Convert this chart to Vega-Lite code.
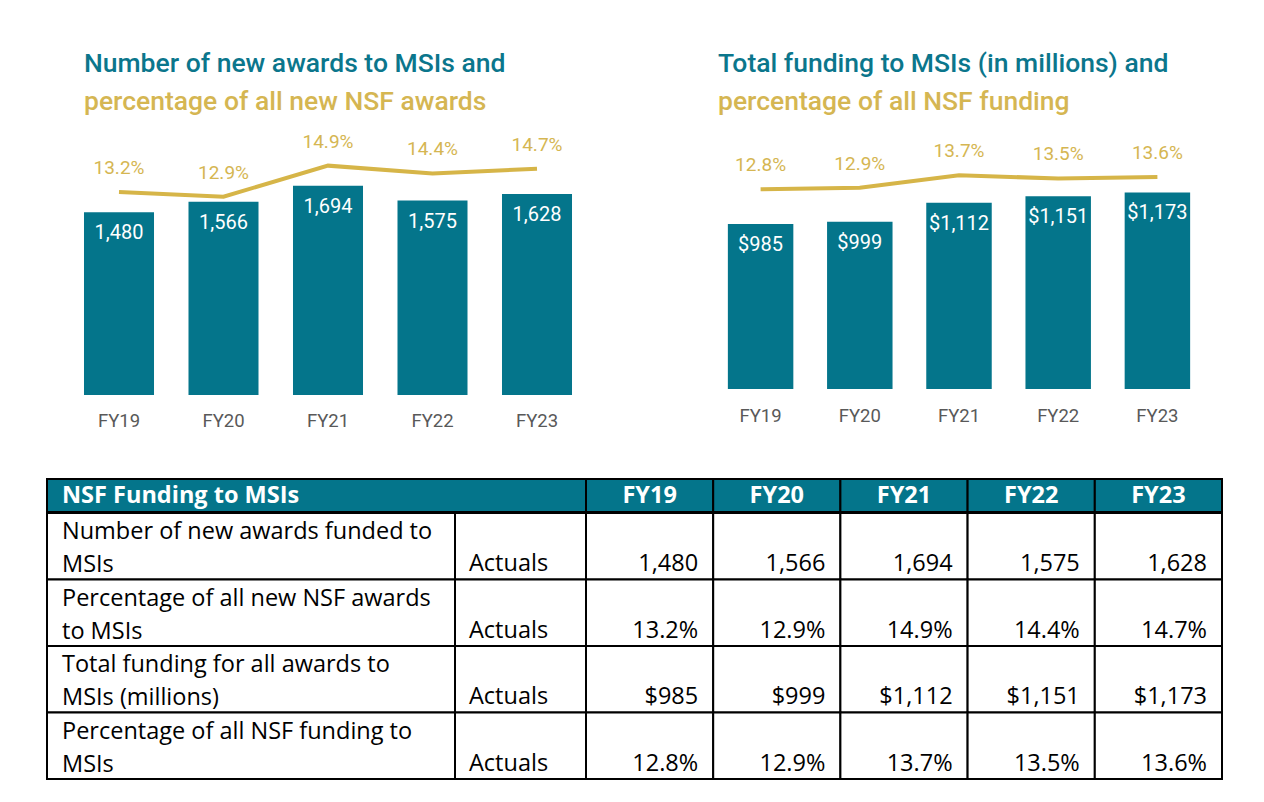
{
  "$schema": "https://vega.github.io/schema/vega-lite/v6.json",
  "background": "white",
  "padding": {"left": 46, "top": 51, "right": 0, "bottom": 0},
  "autosize": {"type": "pad"},
  "config": {"view": {"stroke": null}},
  "datasets": {
    "awards": [
      {"fy": "FY19", "awards": 1480, "pct": 0.132},
      {"fy": "FY20", "awards": 1566, "pct": 0.129},
      {"fy": "FY21", "awards": 1694, "pct": 0.149},
      {"fy": "FY22", "awards": 1575, "pct": 0.144},
      {"fy": "FY23", "awards": 1628, "pct": 0.147}
    ],
    "funding": [
      {"fy": "FY19", "funding": 985, "pct": 0.128},
      {"fy": "FY20", "funding": 999, "pct": 0.129},
      {"fy": "FY21", "funding": 1112, "pct": 0.137},
      {"fy": "FY22", "funding": 1151, "pct": 0.135},
      {"fy": "FY23", "funding": 1173, "pct": 0.136}
    ],
    "tabletitle": [{"title": "NSF Funding to MSIs"}],
    "years": [{"fy": "FY19"}, {"fy": "FY20"}, {"fy": "FY21"}, {"fy": "FY22"}, {"fy": "FY23"}],
    "rows": [
      {"row": 1, "label": "Number of new awards funded to\nMSIs", "kind": "Actuals"},
      {"row": 2, "label": "Percentage of all new NSF awards\nto MSIs", "kind": "Actuals"},
      {"row": 3, "label": "Total funding for all awards to\nMSIs (millions)", "kind": "Actuals"},
      {"row": 4, "label": "Percentage of all NSF funding to\nMSIs", "kind": "Actuals"}
    ],
    "cells": [
      {"row": 1, "fy": "FY19", "value": "1,480"},
      {"row": 1, "fy": "FY20", "value": "1,566"},
      {"row": 1, "fy": "FY21", "value": "1,694"},
      {"row": 1, "fy": "FY22", "value": "1,575"},
      {"row": 1, "fy": "FY23", "value": "1,628"},
      {"row": 2, "fy": "FY19", "value": "13.2%"},
      {"row": 2, "fy": "FY20", "value": "12.9%"},
      {"row": 2, "fy": "FY21", "value": "14.9%"},
      {"row": 2, "fy": "FY22", "value": "14.4%"},
      {"row": 2, "fy": "FY23", "value": "14.7%"},
      {"row": 3, "fy": "FY19", "value": "$985"},
      {"row": 3, "fy": "FY20", "value": "$999"},
      {"row": 3, "fy": "FY21", "value": "$1,112"},
      {"row": 3, "fy": "FY22", "value": "$1,151"},
      {"row": 3, "fy": "FY23", "value": "$1,173"},
      {"row": 4, "fy": "FY19", "value": "12.8%"},
      {"row": 4, "fy": "FY20", "value": "12.9%"},
      {"row": 4, "fy": "FY21", "value": "13.7%"},
      {"row": 4, "fy": "FY22", "value": "13.5%"},
      {"row": 4, "fy": "FY23", "value": "13.6%"}
    ]
  },
  "spacing": 48,
  "vconcat": [
    {
      "hconcat": [
        {
          "width": 562,
          "height": 264,
          "title": {
            "text": "Number of new awards to MSIs and",
            "subtitle": "percentage of all new NSF awards",
            "anchor": "start", "dx": 37, "offset": 16,
            "font": "Roboto", "fontSize": 26.5, "fontWeight": 500, "color": "#0B768C",
            "subtitleFont": "Roboto", "subtitleFontSize": 26.5, "subtitleFontWeight": 500,
            "subtitleColor": "#D5B652", "subtitlePadding": 11
          },
          "data": {"name": "awards"},
          "encoding": {
            "x": {
              "field": "fy", "type": "nominal",
              "scale": {"paddingInner": 0.33, "paddingOuter": 0.354},
              "axis": {"title": null, "domain": false, "ticks": false, "labelAngle": 0,
                       "labelFont": "Roboto", "labelFontSize": 18.5, "labelColor": "#595959", "labelPadding": 16}
            }
          },
          "layer": [
            {
              "mark": {"type": "bar", "color": "#04758B"},
              "encoding": {"y": {"field": "awards", "type": "quantitative", "scale": {"domain": [0, 2138]}, "axis": null}}
            },
            {
              "mark": {"type": "text", "color": "white", "font": "Roboto", "fontSize": 20, "baseline": "middle", "dy": 21},
              "encoding": {
                "y": {"field": "awards", "type": "quantitative", "scale": {"domain": [0, 2138]}, "axis": null},
                "text": {"field": "awards", "type": "quantitative", "format": ","}
              }
            },
            {
              "mark": {"type": "line", "color": "#D6B548", "strokeWidth": 4},
              "encoding": {"y": {"field": "pct", "type": "quantitative", "scale": {"domain": [0.00103, 0.17135]}, "axis": null}}
            },
            {
              "mark": {"type": "text", "color": "#D5B652", "font": "Roboto", "fontSize": 19, "baseline": "middle", "dy": -24},
              "encoding": {
                "y": {"field": "pct", "type": "quantitative", "scale": {"domain": [0.00103, 0.17135]}, "axis": null},
                "text": {"field": "pct", "type": "quantitative", "format": ".1%"}
              }
            }
          ],
          "resolve": {"scale": {"y": "independent"}}
        },
        {
          "width": 496,
          "height": 258,
          "title": {
            "text": "Total funding to MSIs (in millions) and",
            "subtitle": "percentage of all NSF funding",
            "anchor": "start", "dx": 7, "offset": 16,
            "font": "Roboto", "fontSize": 26.5, "fontWeight": 500, "color": "#0B768C",
            "subtitleFont": "Roboto", "subtitleFontSize": 26.5, "subtitleFontWeight": 500,
            "subtitleColor": "#D5B652", "subtitlePadding": 11
          },
          "data": {"name": "funding"},
          "encoding": {
            "x": {
              "field": "fy", "type": "nominal",
              "scale": {"paddingInner": 0.34, "paddingOuter": 0.17},
              "axis": {"title": null, "domain": false, "ticks": false, "labelAngle": 0,
                       "labelFont": "Roboto", "labelFontSize": 18.5, "labelColor": "#595959", "labelPadding": 17}
            }
          },
          "layer": [
            {
              "mark": {"type": "bar", "color": "#04758B"},
              "encoding": {"y": {"field": "funding", "type": "quantitative", "scale": {"domain": [0, 1540]}, "axis": null}}
            },
            {
              "mark": {"type": "text", "color": "white", "font": "Roboto", "fontSize": 20, "baseline": "middle", "dy": 21},
              "encoding": {
                "y": {"field": "funding", "type": "quantitative", "scale": {"domain": [0, 1540]}, "axis": null},
                "text": {"field": "funding", "type": "quantitative", "format": "$,.0f"}
              }
            },
            {
              "mark": {"type": "line", "color": "#D6B548", "strokeWidth": 4},
              "encoding": {"y": {"field": "pct", "type": "quantitative", "scale": {"domain": [-0.0008, 0.1656]}, "axis": null}}
            },
            {
              "mark": {"type": "text", "color": "#D5B652", "font": "Roboto", "fontSize": 19, "baseline": "middle", "dy": -24},
              "encoding": {
                "y": {"field": "pct", "type": "quantitative", "scale": {"domain": [-0.0008, 0.1656]}, "axis": null},
                "text": {"field": "pct", "type": "quantitative", "format": ".1%"}
              }
            }
          ],
          "resolve": {"scale": {"y": "independent"}}
        }
      ],
      "spacing": 102,
      "bounds": "flush"
    },
    {
      "spacing": -2,
      "vconcat": [
        {
          "hconcat": [
            {
              "width": 539, "height": 33,
              "data": {"name": "tabletitle"},
              "layer": [
                {
                  "mark": {"type": "rect", "fill": "#04758B", "stroke": "black", "strokeWidth": 2},
                  "encoding": {"x": {"datum": "title", "type": "nominal", "scale": {"paddingInner": 0, "paddingOuter": 0}, "axis": null}}
                },
                {
                  "mark": {"type": "text", "align": "left", "baseline": "middle", "dx": 15, "font": "Open Sans", "fontSize": 23.5, "fontWeight": "bold", "color": "white"},
                  "encoding": {
                    "x": {"datum": "title", "type": "nominal", "bandPosition": 0, "scale": {"paddingInner": 0, "paddingOuter": 0}, "axis": null},
                    "text": {"field": "title"}
                  }
                }
              ]
            },
            {
              "width": 636, "height": 33,
              "data": {"name": "years"},
              "encoding": {"x": {"field": "fy", "type": "nominal", "scale": {"type": "band", "paddingInner": 0, "paddingOuter": 0}, "axis": null}},
              "layer": [
                {"mark": {"type": "rect", "fill": "#04758B", "stroke": "black", "strokeWidth": 2}},
                {
                  "mark": {"type": "text", "baseline": "middle", "font": "Open Sans", "fontSize": 23.5, "fontWeight": "bold", "color": "white"},
                  "encoding": {"text": {"field": "fy"}}
                }
              ]
            }
          ],
          "spacing": 0,
          "bounds": "flush"
        },
        {
          "hconcat": [
            {
              "width": 408, "height": 266,
              "data": {"name": "rows"},
              "encoding": {
                "x": {"datum": "label", "type": "nominal", "scale": {"type": "band", "paddingInner": 0, "paddingOuter": 0}, "axis": null},
                "y": {"field": "row", "type": "ordinal", "scale": {"type": "band", "paddingInner": 0, "paddingOuter": 0}, "axis": null}
              },
              "layer": [
                {"mark": {"type": "rect", "fill": "white", "stroke": "black", "strokeWidth": 2}},
                {
                  "mark": {"type": "text", "align": "left", "baseline": "middle", "dx": 15, "lineBreak": "\n", "lineHeight": 33, "font": "Open Sans", "fontSize": 23.5, "color": "black"},
                  "encoding": {
                    "x": {"datum": "label", "type": "nominal", "bandPosition": 0},
                    "y": {"field": "row", "type": "ordinal", "bandPosition": 0.29},
                    "text": {"field": "label"}
                  }
                }
              ]
            },
            {
              "width": 131, "height": 266,
              "data": {"name": "rows"},
              "encoding": {
                "x": {"datum": "kind", "type": "nominal", "scale": {"type": "band", "paddingInner": 0, "paddingOuter": 0}, "axis": null},
                "y": {"field": "row", "type": "ordinal", "scale": {"type": "band", "paddingInner": 0, "paddingOuter": 0}, "axis": null}
              },
              "layer": [
                {"mark": {"type": "rect", "fill": "white", "stroke": "black", "strokeWidth": 2}},
                {
                  "mark": {"type": "text", "align": "left", "baseline": "middle", "dx": 14, "font": "Open Sans", "fontSize": 23.5, "color": "black"},
                  "encoding": {
                    "x": {"datum": "kind", "type": "nominal", "bandPosition": 0},
                    "y": {"field": "row", "type": "ordinal", "bandPosition": 0.77},
                    "text": {"field": "kind"}
                  }
                }
              ]
            },
            {
              "width": 636, "height": 266,
              "data": {"name": "cells"},
              "encoding": {
                "x": {"field": "fy", "type": "nominal", "scale": {"type": "band", "paddingInner": 0, "paddingOuter": 0}, "axis": null},
                "y": {"field": "row", "type": "ordinal", "scale": {"type": "band", "paddingInner": 0, "paddingOuter": 0}, "axis": null}
              },
              "layer": [
                {"mark": {"type": "rect", "fill": "white", "stroke": "black", "strokeWidth": 2}},
                {
                  "mark": {"type": "text", "align": "right", "baseline": "middle", "dx": -15, "font": "Open Sans", "fontSize": 23.5, "color": "black"},
                  "encoding": {
                    "x": {"field": "fy", "type": "nominal", "bandPosition": 1},
                    "y": {"field": "row", "type": "ordinal", "bandPosition": 0.77},
                    "text": {"field": "value"}
                  }
                }
              ]
            }
          ],
          "spacing": 0,
          "bounds": "flush"
        }
      ]
    }
  ]
}
